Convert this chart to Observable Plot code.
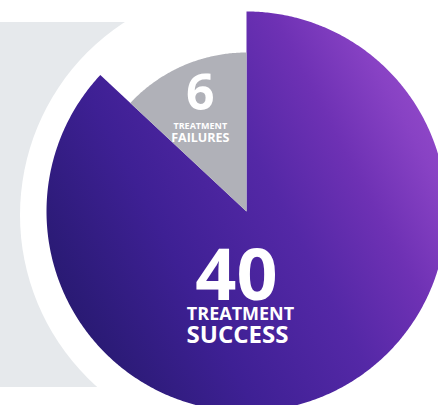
<!DOCTYPE html>
<html><head><meta charset="utf-8">
<script src="https://cdn.jsdelivr.net/npm/d3@7"></script>
<script src="https://cdn.jsdelivr.net/npm/@observablehq/plot@0.6"></script>
<style>
html,body{margin:0;padding:0;background:#fff;}
#wrap{position:relative;width:438px;height:405px;overflow:hidden;font-family:"Open Sans",sans-serif;}
#bgrect{position:absolute;left:0;top:22px;width:260px;height:365px;background:#e6e9ec;}
#bgcircle{position:absolute;left:20px;top:-15px;width:460px;height:460px;border-radius:50%;background:#fff;}
#chart{position:absolute;left:0;top:0;}
</style></head><body>
<div id="wrap"><div id="bgrect"></div><div id="bgcircle"></div><div id="chart"></div></div>
<script>
// ---- data ----
const categories = ["success", "failures"];
const counts = [40, 6];
const labelTop = ["TREATMENT", "TREATMENT"];
const labelBottom = ["SUCCESS", "FAILURES"];

const rows = categories.map((c, i) => ({category: c, count: counts[i], top: labelTop[i], bottom: labelBottom[i]}));
const arcs = d3.pie().sort(null).value(d => d.count)(rows);

const outer = {success: 1, failures: 0.795};
function slicePoints(arc) {
  const r = outer[arc.data.category];
  const pts = [{x: 0, y: 0}];
  const n = Math.max(8, Math.ceil((arc.endAngle - arc.startAngle) / (Math.PI / 360)));
  for (let i = 0; i <= n; i++) {
    const a = arc.startAngle + (arc.endAngle - arc.startAngle) * i / n;
    pts.push({x: r * Math.sin(a), y: r * Math.cos(a)});
  }
  pts.push({x: 0, y: 0});
  return pts;
}
const succArc = arcs.find(a => a.data.category === "success");
const failArc = arcs.find(a => a.data.category === "failures");
const failMid = (failArc.startAngle + failArc.endAngle) / 2;
const failLabel = [{...failArc.data, x: 0.58 * Math.sin(failMid), y: 0.58 * Math.cos(failMid)}];
const succLabel = [{...succArc.data, x: 0, y: 0}];

const font = "'Open Sans', sans-serif";
const svg = Plot.plot({
  width: 438,
  height: 405,
  margin: 0,
  x: {domain: [-1.23, 0.96], axis: null},
  y: {domain: [-0.97, 1.055], axis: null},
  style: {background: "transparent", overflow: "visible"},
  marks: [
    Plot.line(slicePoints(succArc), {x: "x", y: "y", fill: "url(#purpleGrad)", stroke: "none", curve: "linear"}),
    Plot.line(slicePoints(failArc), {x: "x", y: "y", fill: "#b0b1b8", stroke: "none", curve: "linear"}),
    Plot.text(failLabel, {x: "x", y: "y", text: d => String(d.count), fill: "white", fontSize: 50, fontWeight: 700, fontFamily: font, dy: -11}),
    Plot.text(failLabel, {x: "x", y: "y", text: "top", fill: "white", fontSize: 9, fontWeight: 700, fontFamily: font, dy: 21}),
    Plot.text(failLabel, {x: "x", y: "y", text: "bottom", fill: "white", fontSize: 12.5, fontWeight: 700, fontFamily: font, dy: 32.5}),
    Plot.text(succLabel, {x: "x", y: "y", text: d => String(d.count), fill: "white", fontSize: 72, fontWeight: 700, fontFamily: font, dx: -10, dy: 65}),
    Plot.text(succLabel, {x: "x", y: "y", text: "top", fill: "white", fontSize: 18, fontWeight: 700, fontFamily: font, dx: -6, dy: 103}),
    Plot.text(succLabel, {x: "x", y: "y", text: "bottom", fill: "white", fontSize: 24, fontWeight: 700, fontFamily: font, dx: -9, dy: 123.5})
  ]
});
const ns = "http://www.w3.org/2000/svg";
const defs = document.createElementNS(ns, "defs");
defs.innerHTML = `<linearGradient id="purpleGrad" gradientUnits="userSpaceOnUse" x1="40" y1="330" x2="440" y2="120">
  <stop offset="0" stop-color="#24186a"/>
  <stop offset="0.12" stop-color="#2c1b78"/>
  <stop offset="0.34" stop-color="#3e2094"/>
  <stop offset="0.6" stop-color="#5428a6"/>
  <stop offset="0.78" stop-color="#6e31b4"/>
  <stop offset="0.93" stop-color="#8842c4"/>
  <stop offset="1" stop-color="#9048c8"/>
</linearGradient>`;
svg.insertBefore(defs, svg.firstChild);
document.getElementById("chart").appendChild(svg);
</script>
</body></html>
